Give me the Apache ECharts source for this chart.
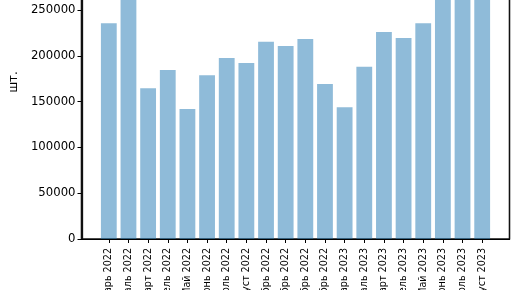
<!DOCTYPE html>
<html>
<head>
<meta charset="utf-8">
<script src="https://cdn.jsdelivr.net/npm/echarts@6/dist/echarts.min.js"></script>
<style>html,body{margin:0;padding:0;background:#fff}#c{width:516px;height:290px}</style>
</head>
<body>
<div id="c"></div>
<script>
const categories = ["Январь 2022","Февраль 2022","Март 2022","Апрель 2022","Май 2022","Июнь 2022","Июль 2022","Август 2022","Сентябрь 2022","Октябрь 2022","Ноябрь 2022","Декабрь 2022","Январь 2023","Февраль 2023","Март 2023","Апрель 2023","Май 2023","Июнь 2023","Июль 2023","Август 2023"];
const values = [235500, 270000, 164500, 184500, 141900, 178700, 197600, 192100, 215400, 210700, 218300, 169200, 143700, 188100, 226000, 219400, 235500, 275000, 280000, 285000];
const yTicks = [0, 50000, 100000, 150000, 200000, 250000, 300000];
const yName = "шт.";

const chart = echarts.init(document.getElementById('c'), null, {renderer: 'canvas'});
const font = 'DejaVu Sans';
const yMax = 342800;
const off = 2;
const pos = categories.map((c, i) => i + off);
const xMin = off - 1.39;
const spine = {color: '#111', width: 1.3};
chart.setOption({
  animation: false,
  grid: {left: 81.5, right: 6.5, top: -75, bottom: 51, containLabel: false, outerBoundsMode: 'none',
         show: true, borderColor: '#111', borderWidth: 1.3, backgroundColor: 'rgba(0,0,0,0)'},
  xAxis: {
    type: 'value', min: xMin, max: off + categories.length - 1 + 1.39,
    splitLine: {show: false},
    axisLine: {show: true, lineStyle: {color: '#000', width: 1}},
    axisTick: {show: true, length: 4, lineStyle: {color: '#000'}, customValues: pos},
    axisLabel: {
      customValues: pos,
      rotate: 90, margin: 9, fontFamily: font, fontSize: 9.6, color: '#000',
      formatter: v => categories[Math.round(v) - off] || ''
    }
  },
  yAxis: [{
    type: 'value', min: 0, max: yMax, position: 'left',
    name: yName, nameLocation: 'middle', nameGap: 60, nameRotate: 90,
    nameTextStyle: {fontFamily: font, fontSize: 11.7, color: '#000'},
    splitLine: {show: false},
    axisLine: {show: true, onZero: false, lineStyle: spine},
    axisTick: {show: true, length: 4, lineStyle: {color: '#000'}, customValues: yTicks},
    axisLabel: {customValues: yTicks, margin: 6, fontFamily: font, fontSize: 11.7, color: '#000',
                formatter: v => String(v)}
  }, {
    type: 'value', min: 0, max: yMax, position: 'right',
    splitLine: {show: false},
    axisLine: {show: true, onZero: false, lineStyle: spine},
    axisTick: {show: false}, axisLabel: {show: false}
  }],
  series: [{
    type: 'bar',
    data: values.map((v, i) => [pos[i], v]),
    barWidth: 15.8,
    itemStyle: {color: '#1f77b4', opacity: 0.5},
    clip: true,
    markLine: {
      silent: true, symbol: 'none', animation: false,
      label: {show: false},
      lineStyle: {type: 'solid', color: '#111', width: 1.3},
      data: [{xAxis: xMin + 0.03}]
    }
  }]
});
</script>
</body>
</html>
